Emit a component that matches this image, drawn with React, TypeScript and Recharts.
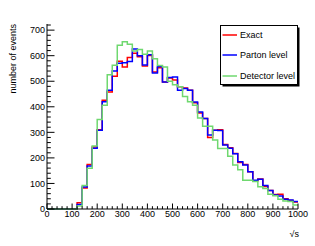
import React from 'react';
import { LineChart, Line, XAxis, YAxis } from 'recharts';

// bin edges of sqrt(s) (20 wide bins, 0..1000)
const binEdges = [0, 20, 40, 60, 80, 100, 120, 140, 160, 180, 200, 220, 240, 260, 280, 300, 320, 340, 360, 380, 400, 420, 440, 460, 480, 500, 520, 540, 560, 580, 600, 620, 640, 660, 680, 700, 720, 740, 760, 780, 800, 820, 840, 860, 880, 900, 920, 940, 960, 980, 1000];

const exact = [0, 0, 0, 0, 0, 0, 24, 82, 174, 243, 310, 426, 458, 520, 578, 556, 593, 610, 596, 560, 601, 536, 553, 497, 513, 505, 478, 474, 465, 416, 376, 354, 280, 308, 310, 252, 240, 217, 182, 174, 146, 111, 117, 88, 72, 57, 58, 40, 33, 27];
const parton = [0, 0, 0, 0, 0, 0, 18, 86, 168, 238, 308, 420, 465, 540, 570, 572, 577, 626, 600, 564, 604, 532, 558, 497, 515, 517, 465, 472, 465, 419, 380, 354, 290, 308, 307, 250, 238, 216, 185, 172, 146, 113, 116, 92, 72, 55, 51, 38, 35, 29];
const detector = [0, 0, 0, 0, 0, 0, 12, 92, 159, 247, 350, 406, 525, 563, 641, 655, 645, 618, 624, 606, 618, 588, 562, 556, 500, 486, 478, 440, 420, 406, 356, 324, 324, 270, 237, 237, 206, 172, 154, 113, 113, 108, 87, 80, 58, 52, 38, 31, 29, 16];

const seriesNames = ['Exact', 'Parton level', 'Detector level'];
const seriesKeys = ['exact', 'parton', 'detector'];
const seriesColors = ['#ff0000', '#0000ff', '#6fd86f'];

const yTicks = [0, 20, 40, 60, 80, 100, 120, 140, 160, 180, 200, 220, 240, 260, 280, 300, 320, 340, 360, 380, 400, 420, 440, 460, 480, 500, 520, 540, 560, 580, 600, 620, 640, 660, 680, 700, 720];
const xTicks = binEdges;

const xTitle = '√s';
const yTitle = 'number of events';

const last = (arr: number[], i: number) => arr[Math.min(i, arr.length - 1)];
const data = binEdges.map((x, i) => ({
  x,
  exact: last(exact, i),
  parton: last(parton, i),
  detector: last(detector, i),
}));

const FONT = '"Liberation Sans", Arial, Helvetica, sans-serif';
const FS = 9;
const MARGIN = 2;

const BottomTick = (props: any) => {
  const { x, y, payload } = props;
  const major = payload.value % 100 === 0;
  const ay = y - MARGIN;
  return (
    <g>
      <line x1={x} y1={ay} x2={x} y2={ay - (major ? 5.5 : 2.8)} stroke="#000" strokeWidth={1} />
      {major && (
        <text x={x} y={y} dy="0.71em" textAnchor="middle" fontSize={FS} fontFamily={FONT} fill="#000">
          {payload.value}
        </text>
      )}
    </g>
  );
};

const TopTick = (props: any) => {
  const { x, y, payload } = props;
  const major = payload.value % 100 === 0;
  return <line x1={x} y1={y} x2={x} y2={y + (major ? 5.5 : 2.8)} stroke="#000" strokeWidth={1} />;
};

const LeftTick = (props: any) => {
  const { x, y, payload } = props;
  const major = payload.value % 100 === 0;
  const ax = x + MARGIN;
  return (
    <g>
      <line x1={ax} y1={y} x2={ax + (major ? 7.5 : 3.8)} y2={y} stroke="#000" strokeWidth={1} />
      {major && (
        <text x={x} y={y} dy="0.355em" textAnchor="end" fontSize={FS} fontFamily={FONT} fill="#000">
          {payload.value}
        </text>
      )}
    </g>
  );
};

const RightTick = (props: any) => {
  const { x, y, payload } = props;
  const major = payload.value % 100 === 0;
  return <line x1={x} y1={y} x2={x - (major ? 7.5 : 3.8)} y2={y} stroke="#000" strokeWidth={1} />;
};

const YTitle = (props: any) => {
  const vb = props.viewBox || { x: 0, y: 24 };
  const tx = 16;
  const ty = vb.y;
  return (
    <text x={tx} y={ty} transform={`rotate(-90 ${tx} ${ty})`} textAnchor="end" fontSize={FS} fontFamily={FONT} fill="#000">
      {yTitle}
    </text>
  );
};

const XTitle = (props: any) => {
  const vb = props.viewBox || { x: 47, y: 209, width: 251 };
  return (
    <text x={vb.x + vb.width + 1} y={vb.y + 28} textAnchor="end" fontSize={FS} fontFamily={FONT} fill="#000">
      {xTitle}
    </text>
  );
};

const LegendBox = () => {
  const lx = 220.5;
  const ly = 25.5;
  const w = 77;
  const h = 59;
  const rows = [35, 55, 76];
  return (
    <svg width={315} height={246} style={{ position: 'absolute', left: 0, top: 0, pointerEvents: 'none' }}>
      <rect x={lx + 2} y={ly + 2} width={w} height={h} fill="#000" />
      <rect x={lx} y={ly} width={w} height={h} fill="#fff" stroke="#000" strokeWidth={1} />
      {seriesNames.map((name, i) => (
        <g key={name}>
          <line x1={222.5} y1={rows[i]} x2={237} y2={rows[i]} stroke={seriesColors[i]} strokeWidth={1.5} />
          <text x={240} y={rows[i]} dy="0.355em" fontSize={FS} fontFamily={FONT} fill="#000">
            {name}
          </text>
        </g>
      ))}
    </svg>
  );
};

export default function App() {
  return (
    <div style={{ position: 'absolute', left: 0, top: 0, width: 315, height: 246, background: '#fff' }}>
      <LineChart width={315} height={246} data={data} margin={{ top: 24, right: 17, bottom: 0, left: 0 }}>
        {seriesKeys.map((k, i) => (
          <Line
            key={k}
            xAxisId="b"
            yAxisId="l"
            type="stepAfter"
            dataKey={k}
            stroke={seriesColors[i]}
            strokeWidth={1.5}
            dot={false}
            activeDot={false}
            isAnimationActive={false}
          />
        ))}
        <XAxis
          xAxisId="b"
          dataKey="x"
          type="number"
          domain={[0, 1000]}
          ticks={xTicks}
          interval={0}
          height={37}
          tickSize={0}
          tickMargin={MARGIN}
          tick={<BottomTick />}
          axisLine={{ stroke: '#000' }}
          label={<XTitle />}
        />
        <XAxis
          xAxisId="t"
          orientation="top"
          dataKey="x"
          type="number"
          domain={[0, 1000]}
          ticks={xTicks}
          interval={0}
          height={0}
          tickSize={0}
          tickMargin={0}
          tick={<TopTick />}
          axisLine={{ stroke: '#000' }}
        />
        <YAxis
          yAxisId="l"
          type="number"
          domain={[0, 724]}
          ticks={yTicks}
          interval={0}
          width={47}
          tickSize={0}
          tickMargin={MARGIN}
          tick={<LeftTick />}
          axisLine={{ stroke: '#000' }}
          label={<YTitle />}
        />
        <YAxis
          yAxisId="r"
          orientation="right"
          type="number"
          domain={[0, 724]}
          ticks={yTicks}
          interval={0}
          width={0}
          tickSize={0}
          tickMargin={0}
          tick={<RightTick />}
          axisLine={{ stroke: '#000' }}
        />
      </LineChart>
      <LegendBox />
    </div>
  );
}
